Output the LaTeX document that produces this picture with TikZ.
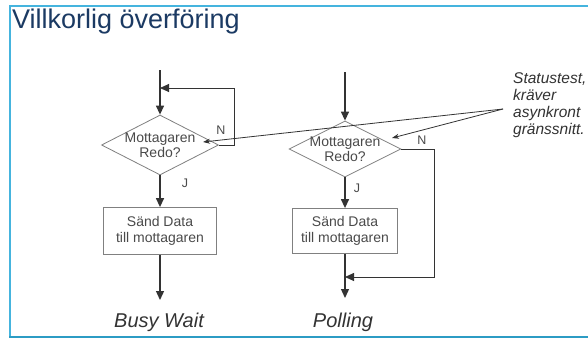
\documentclass[tikz,border=0pt]{standalone}
\usepackage{fontspec}
\setmainfont{Liberation Sans}
\usetikzlibrary{shapes.geometric,arrows.meta}
\definecolor{titleblue}{HTML}{1B3A63}
\definecolor{frameblue}{HTML}{45B4DE}
\definecolor{framedark}{HTML}{2C9CC4}
\definecolor{flowgray}{HTML}{333333}
\definecolor{edgegray}{HTML}{808080}
\definecolor{txtgray}{HTML}{4A4A4A}

\begin{document}
\begin{tikzpicture}[x=1pt,y=-1pt,
  flow/.style={flowgray, line width=1.3pt, -{Triangle[length=9pt,width=8pt]}},
  loopflow/.style={flow, line width=0.9pt},
  notearrow/.style={flowgray, line width=0.8pt, -{Stealth[length=7pt,width=5pt]}},
  dia/.style={diamond, draw=edgegray, line width=0.8pt, inner sep=0pt},
  stepbox/.style={rectangle, draw=edgegray, line width=0.8pt, align=center,
    text=txtgray, font=\fontsize{14}{15.5}\selectfont},
  txt/.style={align=center, text=txtgray, font=\fontsize{14}{15.5}\selectfont},
  lbl/.style={text=txtgray, font=\fontsize{12.5}{14}\selectfont},
  caption/.style={text=flowgray, font=\fontsize{20}{24}\itshape}]
\useasboundingbox (0,0) rectangle (588,338);
\fill[white] (0,0) rectangle (588,338);
\draw[frameblue, line width=2pt] (10,337) -- (10,6) -- (588,6);
\draw[framedark, line width=1.5pt] (9,337) -- (588,337);

\node[anchor=base west, inner sep=0pt, text=titleblue, font=\fontsize{27}{30}\selectfont]
  (title) at (12,28) {Villkorlig överföring};

% busy wait
\node[dia, minimum width=117, minimum height=60,
  label={[txt]center:{Mottagaren\\Redo?}}] (ask1) at (160,145) {};
\node[stepbox, minimum width=113, minimum height=47] (send1) at (160,231)
  {Sänd Data\\till mottagaren};
\coordinate (in1) at (160,70);
\coordinate (j1) at (160,88);
\coordinate (loop1) at (234,88);
\coordinate (out1) at (160,300);
\node[lbl] (n1) at (221,130) {N};
\node[lbl] (y1) at (185,183) {J};
\node[caption] (busy) at (159,322) {Busy Wait};
\draw[flow] (in1) -- (ask1.north);
\draw[loopflow] (ask1.east) -| (loop1) -- (j1);
\draw[flow] (ask1.south) -- (send1.north);
\draw[flow] (send1.south) -- (out1);

% polling
\node[dia, minimum width=112, minimum height=56,
  label={[txt]center:{Mottagaren\\Redo?}}] (ask2) at (345,149) {};
\node[stepbox, minimum width=105, minimum height=45] (send2) at (345,231)
  {Sänd Data\\till mottagaren};
\coordinate (in2) at (345,72);
\coordinate (j2) at (345,277);
\coordinate (loop2) at (434,277);
\coordinate (out2) at (345,298);
\node[lbl] (n2) at (422,140) {N};
\node[lbl] (y2) at (357,188) {J};
\node[caption] (poll) at (343,322) {Polling};
\draw[flow] (in2) -- (ask2.north);
\draw[loopflow] (ask2.east) -| (loop2) -- (j2);
\draw[flow] (ask2.south) -- (send2.north);
\draw[flow] (send2.south) -- (out2);

% statustest
\node[anchor=north west, inner sep=0pt, align=left, text=flowgray,
  font=\fontsize{15.5}{17}\itshape] (note) at (513,72)
  {Statustest,\\kräver\\asynkront\\gränssnitt.};
\coordinate (notept) at (503,109);
\coordinate (tip1) at (203,142);
\coordinate (tip2) at (392,138);
\draw[notearrow] (notept) -- (tip1);
\draw[notearrow] (notept) -- (tip2);
\end{tikzpicture}
\end{document}
